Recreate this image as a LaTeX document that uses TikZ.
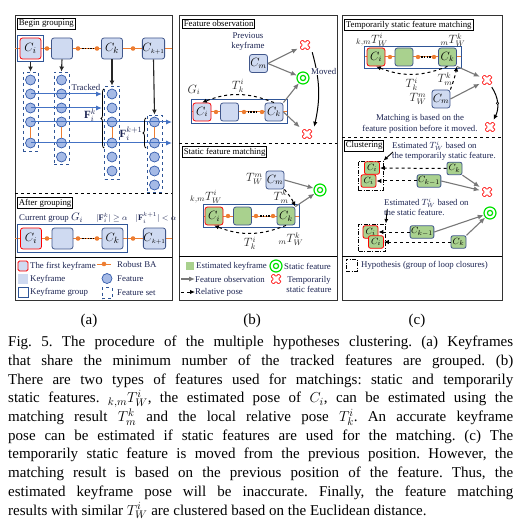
\documentclass[tikz,border=0pt]{standalone}
\usepackage{fontspec}
\setmainfont{Liberation Serif}
\usepackage{tikz}
\usetikzlibrary{arrows.meta}
\usetikzlibrary{decorations.pathreplacing}

\definecolor{kffill}{RGB}{207,218,241}
\definecolor{kfline}{RGB}{65,87,139}
\definecolor{grpblue}{RGB}{47,85,151}
\definecolor{featfill}{RGB}{165,186,230}
\definecolor{featline}{RGB}{50,90,170}
\definecolor{trackblue}{RGB}{68,114,196}
\definecolor{baorange}{RGB}{237,125,49}
\definecolor{estgreen}{RGB}{169,209,142}
\definecolor{statgreen}{RGB}{0,225,0}
\definecolor{tempred}{RGB}{255,45,45}
\definecolor{obsgray}{RGB}{120,120,120}
\definecolor{navytext}{RGB}{28,36,82}

\tikzstyle{panel} = [
  draw=black!80,
  line width=1pt,
]
\tikzstyle{stagebox} = [
  draw,
  line width=0.9pt,
  fill=white,
  inner sep=1.4pt,
  anchor=north west,
  text=black,
]
\tikzstyle{note} = [
  text=navytext,
  inner sep=0pt,
]
\tikzstyle{pose} = [
  text=black!85,
  inner sep=0pt,
  font=\fontsize{11.5}{12}\selectfont,
]
\tikzstyle{keyframe} = [
  draw=kfline,
  fill=kffill,
  line width=0.8pt,
  rounded corners=2.5pt,
  minimum size=21pt,
  inner sep=0pt,
  font=\fontsize{13}{13}\selectfont,
]
\tikzstyle{firstkf} = [
  draw=red,
]
\tikzstyle{kfsmall} = [
  minimum size=18pt,
  font=\fontsize{11.5}{12}\selectfont,
]
\tikzstyle{kftiny} = [
  minimum width=15pt,
  minimum height=12.5pt,
  inner sep=1pt,
  rounded corners=2pt,
  font=\fontsize{9.5}{10}\selectfont,
]
\tikzstyle{estkf} = [
  fill=estgreen,
]
\tikzstyle{groupbox} = [
  draw=grpblue,
  line width=0.9pt,
  inner sep=0pt,
]
\tikzstyle{feature} = [
  circle,
  draw=featline,
  fill=featfill,
  line width=0.7pt,
  minimum size=10pt,
  inner sep=0pt,
]
\tikzstyle{featset} = [
  draw=grpblue,
  dashed,
  line width=0.9pt,
  minimum width=15pt,
  inner sep=0pt,
]
\tikzstyle{hypo} = [
  draw,
  line width=0.9pt,
  dash pattern=on 4pt off 1.5pt on 1pt off 1.5pt,
  inner sep=0pt,
]
\tikzstyle{statfeat} = [
  circle,
  draw=statgreen,
  line width=1.2pt,
  minimum size=12pt,
  inner sep=0pt,
  path picture={
    \draw[statgreen, line width=1.2pt]
      (path picture bounding box.center) circle (2.6pt);
  },
]
\tikzstyle{tempfeat} = [
  minimum size=14pt,
  inner sep=0pt,
  path picture={
    \draw[tempred, line width=0.8pt, fill=white, rounded corners=0.7pt,
      shift={(path picture bounding box.center)}]
      (2.55,-5.09) -- (5.09,-2.55) -- (2.55,0) -- (5.09,2.55) -- (2.55,5.09)
      -- (0,2.55) -- (-2.55,5.09) -- (-5.09,2.55) -- (-2.55,0) -- (-5.09,-2.55)
      -- (-2.55,-5.09) -- (0,-2.55) -- cycle;
  },
]
\tikzstyle{ba} = [
  draw=baorange,
  line width=1pt,
]
\tikzstyle{badots} = [
  draw=black,
  line width=1.6pt,
  dash pattern=on 1.5pt off 1.3pt,
]
\tikzstyle{tracked} = [
  draw=trackblue,
  line width=1pt,
  -{Latex[length=6pt,width=5pt]},
]
\tikzstyle{obs} = [
  draw=obsgray,
  line width=1.1pt,
  -{Latex[length=6pt,width=5pt]},
]
\tikzstyle{relpose} = [
  draw=black,
  dashed,
  line width=1pt,
  -{Latex[length=5pt,width=4.5pt]},
]
\tikzstyle{downarrow} = [
  draw=black!85,
  line width=1.1pt,
  -{Latex[length=5pt,width=5pt]},
]
\tikzstyle{pointer} = [
  draw=black,
  line width=0.9pt,
  -{Latex[length=4.5pt,width=4pt]},
]

\begin{document}
\begin{tikzpicture}[
    x=1pt,
    y=-1pt,
    font=\fontsize{8.8}{10}\selectfont,
  ]
  \useasboundingbox (0,0) rectangle (525,529);

  % panel frames
  \draw[panel] (15,16) rectangle (172,300);
  \draw[panel] (179,16) rectangle (337,300);
  \draw[panel] (342,16) rectangle (502,300);
  \draw[dashed, line width=0.9pt] (15,193) -- (172,193);
  \draw[dashed, line width=0.9pt] (179,143) -- (337,143);
  \draw[dashed, line width=0.9pt] (342,137) -- (502,137);
  \draw[line width=0.9pt] (15,257) -- (172,257);
  \draw[line width=0.9pt] (179,256) -- (337,256);
  \draw[line width=0.9pt] (342,256) -- (502,256);

  % (a) begin grouping
  \node[stagebox] (begin) at (17,18) {Begin grouping};
  \draw[ba] (15,48.5) -- (172,48.5);
  \node[groupbox, minimum size=26pt] (cigrp) at (30.5,48.5) {};
  \node[keyframe, firstkf] (ci) at (30.5,48.5) {$C_i$};
  \node[keyframe] (k2) at (62,48.5) {};
  \node[keyframe] (ck) at (112,48.5) {$C_k$};
  \node[keyframe] (ck1) at (153.5,48.5) {$C_{\scriptscriptstyle k+1}$};

  \node[featset, minimum height=79pt] (set1) at (30.5,111.5) {};
  \node[featset, minimum height=92pt] (set2) at (61.5,118) {};
  \node[featset, minimum height=93pt] (set3) at (112,132.5) {};
  \node[featset, minimum height=77pt] (set4) at (154.5,153.5) {};
  \foreach \cx/\ys [count=\c] in {
      30.5/{80,94,108,122,143},
      61.5/{80,94,108,122,143,157},
      112/{94,108,122,143,157,171},
      154.5/{122,143,157,171,185}}{
    \foreach \y in \ys
      \node[feature] (f\c-\y) at (\cx,\y) {};
    \draw[ba, line width=0.8pt] (f\c-122) -- (f\c-143);
  }
  \draw[downarrow] (cigrp.south) -- (set1.north);
  \draw[downarrow] (k2.south) -- (set2.north);
  \draw[downarrow] (ck.south) -- (set3.north);
  \draw[downarrow] (ck1.south) -- (set4.north);

  \coordinate (trk1) at (102,94);
  \coordinate (trk2) at (102,108);
  \coordinate (trk3) at (172,122);
  \coordinate (trk4) at (172,143);
  \draw[tracked] (f1-94.center) -- (trk1);
  \draw[tracked] (f1-108.center) -- (trk2);
  \draw[tracked] (f1-122.center) -- (trk3);
  \draw[tracked] (f1-143.center) -- (trk4);
  \node[note] (tracked) at (86,87) {Tracked};

  \draw[decorate, decoration={brace, amplitude=3pt}, line width=0.8pt]
    (104,148) -- (104,89);
  \draw[decorate, decoration={brace, amplitude=3pt}, line width=0.8pt]
    (146,148) -- (146,118);
  \node[note, font=\fontsize{11}{11}\selectfont] (fk) at (90,115)
    {$\mathbf{F}_i^k$};
  \node[note, font=\fontsize{11}{11}\selectfont] (fk1) at (131,134)
    {$\mathbf{F}_i^{k+1}$};

  % (a) after grouping
  \node[stagebox] (after) at (17,197) {After grouping};
  \node[note, anchor=west] (curgrp) at (19,218) {Current group
    {\fontsize{11}{11}\selectfont$G_i$}};
  \node[note, font=\fontsize{8.4}{10}\selectfont] (geq) at (112,218) {$|\mathbf{F}_i^k|\geq\alpha$};
  \node[note, font=\fontsize{8.4}{10}\selectfont] (less) at (156,218) {$|\mathbf{F}_i^{k+1}|<\alpha$};
  \draw[ba] (15,238.5) -- (172,238.5);
  \node[groupbox, minimum width=110pt, minimum height=28pt] (grp) at (72,238) {};
  \node[keyframe, firstkf] (gci) at (31,238.5) {$C_i$};
  \node[keyframe] (gk2) at (62.5,238.5) {};
  \node[keyframe] (gck) at (112.5,238.5) {$C_k$};
  \node[keyframe] (gck1) at (154.5,238.5) {$C_{\scriptscriptstyle k+1}$};
  \foreach \y in {48.5,238.5}{
    \foreach \x in {47,78,97,133}
      \fill[baorange] (\x,\y) circle (2.3pt);
    \draw[badots] (82,\y) -- (93.5,\y);
  }

  % (a) legend
  \node[keyframe, firstkf, minimum size=10pt, rounded corners=1.5pt] (lfirst) at (23,266) {};
  \node[note, anchor=west] at (30,266) {The first keyframe};
  \node[keyframe, draw=none, minimum size=10pt, rounded corners=0pt] (lkf) at (23,279) {};
  \node[note, anchor=west] at (30,279) {Keyframe};
  \node[groupbox, minimum size=10pt] (lgrp) at (23,292.5) {};
  \node[note, anchor=west] at (30,292.5) {Keyframe group};
  \coordinate (lba1) at (97,264);
  \coordinate (lba2) at (111,264);
  \draw[ba] (lba1) -- (lba2);
  \fill[baorange] (104,264) circle (2.3pt);
  \node[note, anchor=west] at (117,264) {Robust BA};
  \node[feature] (lfeat) at (107,278.5) {};
  \node[note, anchor=west] at (117,278.5) {Feature};
  \node[featset, minimum width=10pt, minimum height=11pt] (lset) at (107,293) {};
  \node[note, anchor=west] at (117,293) {Feature set};

  % (b) feature observation
  \node[stagebox] (observe) at (182,19) {Feature observation};
  \node[note, align=center] (prev) at (248,42) {Previous\\keyframe};
  \node[keyframe, kfsmall] (bcm) at (258.5,63.5) {$C_m$};
  \node[tempfeat] (crossa) at (305,45) {};
  \node[statfeat] (stata) at (303,78) {};
  \node[tempfeat] (crossb) at (307,134) {};
  \draw[ba] (191,112) -- (287,112);
  \node[groupbox, minimum width=96pt, minimum height=24pt] (bgrp) at (239,111) {};
  \node[keyframe, kfsmall, firstkf] (bci) at (202,112) {$C_i$};
  \node[keyframe, kfsmall] (bk2) at (229.5,112) {};
  \node[keyframe, kfsmall] (bck) at (274,112) {$C_k$};
  \foreach \x in {216,244,262}
    \fill[baorange] (\x,112) circle (2.2pt);
  \draw[badots] (247.5,112) -- (258.5,112);
  \node[pose] (gi) at (194,90) {$G_i$};
  \draw[relpose] (bck.north) to[bend right=22] node[pose, above=2pt] {$T^i_k$} (bci.north);
  \draw[obs] (bcm.east) -- (crossa);
  \draw[obs] (bcm.east) -- (stata);
  \draw[obs] (bck.north east) -- (stata);
  \draw[obs] (bck.east) -- (crossb);
  \draw[line width=1pt, -{Latex[length=5pt,width=4.5pt]}] (crossa.south east) to[bend left=14]
    node[note, pos=0.25, xshift=7pt, fill=white, inner sep=0.6pt] {Moved} (crossb.north east);

  % (b) static feature matching
  \node[stagebox] (static) at (182,146) {Static feature matching};
  \node[keyframe, kfsmall] (scm) at (275,180) {$C_m$};
  \node[pose] at (254.5,179) {$T^m_W$};
  \node[statfeat] (sstat) at (320,190) {};
  \draw[ba] (203,216) -- (299,216);
  \node[groupbox, minimum width=96pt, minimum height=23pt] (sgrp) at (251,215.5) {};
  \node[keyframe, kfsmall, estkf, firstkf] (sci) at (214,216) {$C_i$};
  \node[keyframe, kfsmall, estkf] (sk2) at (242.5,216) {};
  \node[keyframe, kfsmall, estkf] (sck) at (286,216) {$C_k$};
  \foreach \x in {228,256,273}
    \fill[baorange] (\x,216) circle (2.2pt);
  \draw[badots] (260,216) -- (270,216);
  \node[pose] at (206,197) {${}_{k,m}T^i_W$};
  \node[pose] at (291,239) {${}_{m}T^k_W$};
  \draw[obs] (scm.east) -- (sstat);
  \draw[obs] (sck.north east) -- (sstat);
  \draw[relpose] (scm.south east) to[bend left=8]
    node[pose, left=1pt, pos=0.45] {$T^k_m$} (sck.north east);
  \draw[relpose] (sck.south) to[bend left=22]
    node[pose, below=3pt] {$T^i_k$} (sci.south);

  % (b) legend
  \node[fill=estgreen, minimum size=8pt, inner sep=0pt] (lest) at (189.5,266) {};
  \node[note, anchor=west] at (196,266) {Estimated keyframe};
  \coordinate (lobs1) at (181,279);
  \coordinate (lobs2) at (195,279);
  \draw[obs] (lobs1) -- (lobs2);
  \node[note, anchor=west] at (195,279) {Feature observation};
  \coordinate (lrel1) at (181,292);
  \coordinate (lrel2) at (195,292);
  \draw[relpose] (lrel1) -- (lrel2);
  \node[note, anchor=west] at (195,292) {Relative pose};
  \node[statfeat] (lstat) at (276,266) {};
  \node[note, anchor=west] at (284,266) {Static feature};
  \node[tempfeat] (ltemp) at (276,279) {};
  \node[note, align=center] at (309,284) {Temporarily\\static feature};

  % (c) temporarily static feature matching
  \node[stagebox] (tempmatch) at (344,19) {Temporarily static feature matching};
  \draw[ba] (364,57) -- (461,57);
  \node[groupbox, minimum width=97pt, minimum height=22pt] (cgrp) at (412.5,57) {};
  \node[keyframe, kfsmall, estkf, firstkf] (cci) at (376,57) {$C_i$};
  \node[keyframe, kfsmall, estkf] (ck2) at (404,57) {};
  \node[keyframe, kfsmall, estkf] (cck) at (447.5,57) {$C_k$};
  \foreach \x in {390,418,434}
    \fill[baorange] (\x,57) circle (2.2pt);
  \draw[badots] (421,57) -- (431,57);
  \node[pose] at (372,40) {${}_{k,m}T^i_W$};
  \node[pose] at (453,40) {${}_{m}T^k_W$};
  \draw[relpose] (cck.south) to[bend left=22]
    node[pose, below=3pt] {$T^i_k$} (cci.south);
  \node[keyframe, kfsmall] (ccm) at (441,99) {$C_m$};
  \node[pose] at (418,99) {$T^m_W$};
  \draw[relpose] (ccm.north east) to[bend right=5]
    node[pose, left=1pt, pos=0.45] {$T^k_m$} (cck.south east);
  \node[tempfeat] (ccross) at (487,80) {};
  \node[tempfeat] (ccross2) at (490,127) {};
  \draw[obs] (cck.south east) -- (ccross);
  \draw[obs] (ccm.east) -- (ccross);
  \draw[line width=1pt, -{Latex[length=5pt,width=4.5pt]}] (ccross) to[bend left=30]
    node[circle, draw, fill=white, minimum size=2.5pt, inner sep=0pt, line width=0.5pt] {} (ccross2);
  \node[note, align=center, font=\fontsize{8.8}{11}\selectfont] (matchnote) at (420,123.5)
    {Matching is based on the\\feature position before it moved.};

  % (c) clustering
  \node[stagebox] (cluster) at (344,140) {Clustering};
  \node[note, anchor=north west, align=left] (est1) at (392,141)
    {Estimated $T^i_W$ based on\\the temporarily static feature.};
  \node[hypo, minimum width=25pt, minimum height=29pt] (hyp1) at (370.5,175.5) {};
  \node[keyframe, kftiny, estkf, firstkf] (q1a) at (372,168) {$C_i$};
  \node[keyframe, kftiny, estkf, firstkf] (q1b) at (368.5,181) {$C_i$};
  \node[keyframe, kftiny, estkf] (c1k) at (454.5,168.5) {$C_k$};
  \node[keyframe, kftiny, estkf] (c1k1) at (429,181) {$C_{k-1}$};
  \draw[relpose] (c1k) -- (q1a);
  \draw[relpose] (c1k1) -- (q1b);
  \node[tempfeat] (ccross3) at (487,192) {};
  \draw[obs] (c1k.south east) -- (ccross3);
  \draw[obs] (c1k1.east) -- (ccross3);
  \coordinate (p1) at (393,152);
  \draw[pointer] (p1) -- (hyp1.north east);

  \node[note, anchor=north west, align=left] (est2) at (384,198)
    {Estimated $T^i_W$ based on\\the static feature.};
  \node[hypo, minimum width=27pt, minimum height=27pt] (hyp2) at (372,237.5) {};
  \node[keyframe, kftiny, estkf, firstkf] (q2a) at (370.5,232) {$C_i$};
  \node[keyframe, kftiny, estkf, firstkf] (q2b) at (376,242) {$C_i$};
  \node[keyframe, kftiny, estkf] (c2k1) at (422,232) {$C_{k-1}$};
  \node[keyframe, kftiny, estkf] (c2k) at (458.5,242) {$C_k$};
  \draw[relpose] (c2k1) -- (q2a);
  \draw[relpose] (c2k) -- (q2b);
  \node[statfeat] (cstat) at (490,213) {};
  \draw[obs] (c2k1.east) -- (cstat);
  \draw[obs] (c2k.north east) -- (cstat);
  \coordinate (p2) at (387,210);
  \draw[pointer] (p2) -- (hyp2.north east);

  % (c) legend
  \node[hypo, minimum width=11pt, minimum height=12pt] (lhyp) at (351.5,265) {};
  \node[note, anchor=west] at (361,265) {Hypothesis (group of loop closures)};

  % sub-captions and caption
  \node[font=\fontsize{15}{18}\selectfont] (laba) at (89,321) {(a)};
  \node[font=\fontsize{15}{18}\selectfont] (labb) at (252,321) {(b)};
  \node[font=\fontsize{15}{18}\selectfont] (labc) at (417,321) {(c)};
  \node[
    anchor=north west,
    text width=505pt,
    align=justify,
    inner sep=0pt,
    font=\fontsize{15}{18.7}\selectfont\frenchspacing,
  ] (caption) at (8,336) {Fig.~5. The procedure of the multiple hypotheses clustering. (a) Keyframes\linebreak
    that share the minimum number of the tracked features are grouped. (b)\linebreak
    There are two types of features used for matchings: static and temporarily\linebreak
    static features. ${}_{k,m}T^i_W$, the estimated pose of $C_i$, can be estimated using the\linebreak
    matching result $T^k_m$ and the local relative pose $T^i_k$. An accurate keyframe\linebreak
    pose can be estimated if static features are used for the matching. (c) The\linebreak
    temporarily static feature is moved from the previous position. However, the\linebreak
    matching result is based on the previous position of the feature. Thus, the\linebreak
    estimated keyframe pose will be inaccurate. Finally, the feature matching\linebreak
    results with similar $T^i_W$ are clustered based on the Euclidean distance.};
\end{tikzpicture}
\end{document}
